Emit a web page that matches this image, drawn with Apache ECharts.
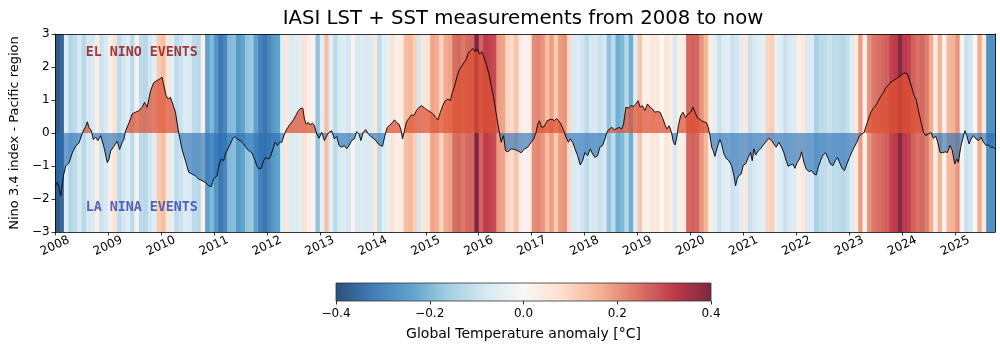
<!DOCTYPE html>
<html><head><meta charset="utf-8">
<script src="https://cdn.jsdelivr.net/npm/echarts@6/dist/echarts.min.js"></script>
<style>html,body{margin:0;padding:0;background:#fff}#c{width:1000px;height:348px}</style>
</head><body><div id="c"></div><script>
// ---------- data ----------
const startYear = 2008;
const endYear = 2025.75;
const yearTicks = [2008,2009,2010,2011,2012,2013,2014,2015,2016,2017,2018,2019,2020,2021,2022,2023,2024,2025];
const colorbarTicks = [-0.4,-0.2,0,0.2,0.4];
// monthly global temperature anomaly (stripes), Jan 2008 .. Sep 2025
const stripeAnoms = [
 -0.38,-0.36,-0.065,-0.14,-0.12,-0.08,-0.13,-0.085,-0.08,0.04,-0.10,-0.075,
 0.03,0.07,-0.12,-0.085,-0.065,-0.12,0.02,-0.12,-0.13,-0.085,-0.055,0.12,
 0.14,0.06,-0.055,-0.12,-0.10,-0.065,-0.075,-0.12,-0.13,0.04,-0.24,-0.20,
 -0.27,-0.33,-0.30,-0.20,-0.19,-0.26,-0.24,-0.18,-0.17,-0.24,-0.31,-0.33,
 -0.30,-0.26,-0.24,-0.055,0.06,-0.075,-0.065,-0.055,0.07,0.03,0.02,-0.18,
 -0.055,0.14,-0.055,-0.12,-0.075,-0.065,-0.085,0.02,-0.075,-0.065,-0.075,-0.075,
 0.06,-0.12,-0.055,-0.045,0.07,0.03,0.04,0.14,0.15,0.11,-0.085,0.06,
 0.07,0.18,0.17,0.10,0.17,0.18,0.25,0.26,0.24,0.26,0.26,0.40,
 0.27,0.32,0.31,0.30,0.19,0.18,0.10,0.09,0.13,0.04,0.02,0.04,
 0.21,0.22,0.20,0.14,0.19,0.12,0.19,0.20,0.09,-0.075,-0.065,-0.085,
 -0.12,-0.085,-0.08,-0.10,-0.085,-0.18,-0.12,-0.22,-0.20,-0.13,-0.22,-0.065,
 0.13,0.03,0.03,0.06,0.05,0.00,0.06,0.04,-0.08,0.03,0.04,0.26,
 0.27,0.26,0.20,0.15,0.04,-0.055,-0.10,-0.065,-0.055,-0.10,-0.085,-0.055,
 0.05,-0.10,-0.08,-0.065,-0.045,0.10,0.11,-0.045,-0.065,-0.10,-0.075,-0.065,
 0.04,0.05,-0.07,-0.07,-0.15,-0.12,-0.12,-0.10,-0.12,-0.12,-0.13,-0.11,
 -0.065,0.05,0.19,0.03,0.20,0.24,0.25,0.26,0.27,0.31,0.32,0.39,
 0.32,0.31,0.27,0.25,0.26,0.23,0.17,0.04,0.16,0.02,0.15,0.16,
 0.20,0.02,-0.10,-0.08,0.00,0.17,0.05,-0.28,-0.28
];
// Nino 3.4 index
const ninoYears = [
2008.000,2008.044,2008.075,2008.107,2008.157,2008.201,2008.264,2008.326,2008.389,2008.452,2008.515,2008.578,2008.609,2008.640,2008.684,2008.722,2008.766,2008.810,2008.860,2008.923,2008.986,
2009.017,2009.048,2009.111,2009.174,2009.218,2009.268,2009.299,2009.331,2009.394,2009.457,2009.519,2009.582,2009.645,2009.689,2009.739,2009.802,2009.864,2009.927,2009.978,
2010.021,2010.053,2010.097,2010.135,2010.179,2010.222,2010.273,2010.335,2010.398,2010.461,2010.524,2010.586,2010.649,2010.712,2010.775,2010.838,2010.901,2010.950,2010.994,
2011.057,2011.101,2011.139,2011.183,2011.214,2011.264,2011.308,2011.352,2011.390,2011.434,2011.497,2011.560,2011.623,2011.666,2011.716,2011.767,2011.811,2011.855,2011.893,2011.936,2011.980,
2012.018,2012.062,2012.093,2012.125,2012.156,2012.200,2012.238,2012.282,2012.332,2012.376,2012.439,2012.502,2012.546,2012.596,2012.640,2012.678,2012.709,2012.740,2012.784,2012.816,2012.860,2012.897,2012.941,2012.985,
2013.035,2013.086,2013.130,2013.174,2013.224,2013.274,2013.318,2013.362,2013.412,2013.462,2013.506,2013.550,2013.600,2013.650,2013.694,2013.738,2013.776,2013.819,2013.869,2013.914,2013.958,
2014.008,2014.058,2014.102,2014.146,2014.184,2014.228,2014.272,2014.322,2014.373,2014.410,2014.448,2014.492,2014.529,2014.561,2014.598,2014.636,2014.680,2014.730,2014.774,2014.824,2014.874,2014.918,2014.949,
2015.000,2015.044,2015.094,2015.138,2015.188,2015.232,2015.276,2015.326,2015.370,2015.420,2015.464,2015.502,2015.546,2015.596,2015.640,2015.684,2015.722,2015.766,2015.797,2015.841,2015.891,2015.935,2015.973,
2016.017,2016.061,2016.099,2016.143,2016.193,2016.237,2016.287,2016.331,2016.362,2016.394,2016.425,2016.469,2016.507,2016.551,2016.614,2016.677,2016.739,2016.801,2016.864,2016.927,2016.990,
2017.040,2017.083,2017.115,2017.146,2017.190,2017.240,2017.290,2017.334,2017.385,2017.428,2017.472,2017.510,2017.554,2017.605,2017.649,2017.693,2017.730,2017.774,2017.818,2017.868,2017.918,2017.962,
2018.006,2018.056,2018.107,2018.151,2018.195,2018.245,2018.289,2018.339,2018.383,2018.421,2018.465,2018.515,2018.559,2018.609,2018.653,2018.697,2018.735,2018.779,2018.829,2018.873,2018.923,2018.967,
2019.011,2019.049,2019.093,2019.137,2019.187,2019.237,2019.281,2019.325,2019.376,2019.426,2019.470,2019.514,2019.552,2019.596,2019.640,2019.677,2019.709,2019.745,2019.770,2019.814,2019.858,2019.908,2019.959,
2020.003,2020.047,2020.084,2020.128,2020.160,2020.210,2020.254,2020.298,2020.336,2020.367,2020.399,2020.430,2020.461,2020.505,2020.555,2020.587,2020.631,2020.675,2020.725,2020.775,2020.819,2020.851,2020.882,2020.914,2020.958,2020.996,
2021.040,2021.090,2021.134,2021.166,2021.197,2021.229,2021.279,2021.323,2021.367,2021.417,2021.480,2021.530,2021.574,2021.618,2021.669,2021.719,2021.763,2021.807,2021.845,2021.889,2021.933,2021.971,
2022.015,2022.059,2022.097,2022.141,2022.185,2022.235,2022.286,2022.330,2022.374,2022.411,2022.455,2022.499,2022.550,2022.600,2022.639,2022.689,2022.733,2022.777,2022.827,2022.871,2022.909,2022.953,
2023.003,2023.047,2023.091,2023.141,2023.185,2023.235,2023.279,2023.317,2023.361,2023.405,2023.455,2023.505,2023.549,2023.593,2023.644,2023.688,2023.738,2023.782,2023.832,2023.882,2023.926,2023.970,
2024.008,2024.052,2024.096,2024.134,2024.178,2024.222,2024.260,2024.304,2024.348,2024.398,2024.442,2024.493,2024.537,2024.587,2024.631,2024.669,2024.713,2024.763,2024.807,2024.851,2024.901,2024.945,2024.989,
2025.027,2025.058,2025.102,2025.140,2025.184,2025.216,2025.260,2025.298,2025.342,2025.392,2025.436,2025.487,2025.531,2025.581,2025.625,2025.669,2025.719,2025.750
];
const ninoValues = [
-1.6,-1.5,-1.65,-1.9,-1.3,-1.0,-0.9,-0.6,-0.4,-0.3,0.0,0.2,0.34,0.17,0.07,-0.2,-0.13,-0.23,-0.08,-0.43,-0.9,
-0.8,-0.55,-0.4,-0.25,-0.5,-0.28,-0.2,0.07,0.3,0.58,0.63,0.68,0.78,0.93,0.78,1.28,1.53,1.59,1.64,
1.69,1.45,1.13,1.03,1.08,0.88,0.63,0.0,-0.5,-0.84,-1.19,-1.24,-1.3,-1.4,-1.44,-1.5,-1.6,-1.62,-1.39,
-1.3,-0.94,-0.79,-0.84,-0.64,-0.48,-0.33,-0.18,-0.1,-0.18,-0.23,-0.33,-0.48,-0.54,-0.6,-0.79,-1.0,-1.09,-1.07,-0.84,-0.74,
-0.79,-0.74,-0.79,-0.43,-0.28,-0.38,-0.28,-0.28,-0.03,0.12,0.27,0.4,0.53,0.68,0.75,0.75,0.42,0.27,0.32,0.24,0.3,0.22,-0.03,-0.16,
0.02,-0.23,-0.08,0.02,0.07,-0.18,-0.1,-0.38,-0.43,-0.38,-0.48,-0.38,-0.23,-0.18,0.04,-0.03,-0.23,0.03,0.1,-0.03,-0.1,
-0.16,-0.23,-0.33,-0.38,-0.4,-0.08,0.17,0.24,0.32,0.4,0.32,0.27,0.12,-0.18,0.07,0.34,0.44,0.55,0.53,0.68,0.78,0.83,0.85,
0.73,0.68,0.63,0.58,0.47,0.4,0.63,0.85,0.98,1.03,0.98,1.23,1.43,1.74,1.94,2.04,2.14,2.24,2.39,2.49,2.56,2.46,2.55,
2.39,2.46,2.29,2.09,1.79,1.43,1.03,0.58,0.27,-0.03,-0.28,-0.08,-0.54,-0.57,-0.48,-0.5,-0.54,-0.6,-0.48,-0.43,-0.28,
-0.18,0.02,0.27,0.37,0.17,0.2,0.37,0.4,0.42,0.37,0.44,0.37,0.27,0.07,-0.13,-0.28,-0.18,-0.28,-0.48,-0.69,-0.97,-0.84,
-0.59,-0.69,-0.48,-0.64,-0.74,-0.69,-0.43,-0.38,-0.18,0.02,0.12,0.17,0.1,0.14,0.17,0.12,0.27,0.78,0.75,0.83,0.81,0.88,
0.98,0.78,0.83,0.68,0.88,0.78,0.73,0.63,0.65,0.63,0.47,0.27,0.12,0.22,0.02,-0.28,-0.36,-0.1,0.22,0.53,0.63,0.47,0.58,
0.63,0.78,0.63,0.47,0.53,0.37,0.34,0.32,0.17,-0.08,-0.43,-0.54,-0.71,-0.43,-0.2,-0.33,-0.64,-0.77,-0.84,-0.99,-1.29,-1.6,-1.39,-1.29,-1.24,-0.97,
-0.94,-0.74,-0.59,-0.84,-0.48,-0.67,-0.54,-0.48,-0.38,-0.28,-0.16,-0.23,-0.33,-0.43,-0.28,-0.43,-0.6,-0.84,-1.01,-0.97,-0.94,-1.07,
-0.89,-0.79,-0.57,-0.89,-1.09,-1.17,-1.14,-1.24,-1.27,-1.04,-0.84,-0.67,-0.6,-0.77,-0.94,-0.99,-0.84,-0.74,-0.94,-1.09,-1.14,-0.94,
-0.74,-0.57,-0.43,-0.28,-0.1,-0.03,0.02,0.22,0.42,0.63,0.75,0.85,0.98,1.11,1.23,1.38,1.45,1.54,1.59,1.64,1.69,1.74,
1.79,1.82,1.79,1.59,1.38,1.13,1.03,0.68,0.37,0.02,-0.08,-0.03,0.02,-0.16,-0.1,-0.28,-0.59,-0.6,-0.57,-0.59,-0.38,-0.54,-0.94,
-0.79,-0.89,-0.43,-0.18,0.07,-0.08,-0.33,-0.18,-0.08,-0.18,-0.23,-0.13,-0.28,-0.38,-0.36,-0.43,-0.43,-0.48
];
const annotationTexts = ['EL NINO EVENTS', 'LA NINA EVENTS'];
const annotationAt = [[2008.58, 2.44], [2008.58, -2.27]];

// ---------- styling ----------
const FONT = 'DejaVu Sans';
// RdBu_r, slightly faded over white
const cmapBase = ['#053061','#2166ac','#4393c3','#92c5de','#d1e5f0','#f7f7f7','#fddbc7','#f4a582','#d6604d','#b2182b','#67001f'];
const ALPHA = 0.85;
const fade = hex => {
  const n = parseInt(hex.slice(1), 16);
  const ch = [(n >> 16) & 255, (n >> 8) & 255, n & 255].map(c => Math.round(c * ALPHA + 255 * (1 - ALPHA)));
  return 'rgb(' + ch.join(',') + ')';
};
const cmap = cmapBase.map(fade);
const minus = v => (v < 0 ? '\u2212' : '') + Math.abs(v);
const stripeData = stripeAnoms.map((a, i) => [startYear + i / 12, startYear + (i + 1) / 12, a]);
const ninoData = ninoYears.map((t, i) => [t, ninoValues[i]]);

const chart = echarts.init(document.getElementById('c'), null, {renderer: 'canvas'});
const axisLineStyle = {color: '#000', width: 0.8};
chart.setOption({
  animation: false,
  backgroundColor: '#fff',
  textStyle: {fontFamily: FONT},
  title: {
    text: 'IASI LST + SST measurements from 2008 to now',
    left: 518, top: 4, textAlign: 'center',
    textStyle: {fontFamily: FONT, fontSize: 19.7, fontWeight: 'normal', color: '#000'}
  },
  grid: [
    {left: 51, right: 5, top: 34, bottom: 116, containLabel: false},
    {left: 336, width: 375, top: 283, height: 18, containLabel: false}
  ],
  xAxis: [
    {gridIndex: 0, type: 'value', min: startYear, max: endYear, z: 10,
     axisLine: {show: true, onZero: false, lineStyle: axisLineStyle},
     axisTick: {show: true, length: 3.5, lineStyle: axisLineStyle, customValues: yearTicks},
     axisLabel: {customValues: yearTicks, rotate: 25, align: 'center', verticalAlign: 'middle', margin: 14,
                 fontSize: 12, color: '#000', fontFamily: FONT, formatter: v => String(v)},
     splitLine: {show: false}},
    {gridIndex: 1, type: 'value', min: -0.4, max: 0.4, interval: 0.2, z: 10,
     axisLine: {show: false, onZero: false},
     axisTick: {show: true, length: 3.5, lineStyle: axisLineStyle, customValues: colorbarTicks},
     axisLabel: {customValues: colorbarTicks, fontSize: 12, color: '#000', margin: 7, fontFamily: FONT,
                 formatter: v => (v < 0 ? '\u2212' : '') + Math.abs(v).toFixed(1)},
     splitLine: {show: false},
     name: 'Global Temperature anomaly [°C]', nameLocation: 'middle', nameGap: 26,
     nameTextStyle: {fontSize: 14, color: '#000', fontFamily: FONT}},
    {gridIndex: 0, type: 'value', position: 'top', min: startYear, max: endYear, z: 10,
     axisLine: {show: true, onZero: false, lineStyle: axisLineStyle}, axisTick: {show: false}, axisLabel: {show: false}, splitLine: {show: false}}
  ],
  yAxis: [
    {gridIndex: 0, type: 'value', min: -3, max: 3, interval: 1, z: 10,
     axisLine: {show: true, onZero: false, lineStyle: axisLineStyle},
     axisTick: {show: true, length: 3.5, lineStyle: axisLineStyle},
     axisLabel: {fontSize: 12, color: '#000', margin: 5.5, fontFamily: FONT, formatter: minus},
     splitLine: {show: false},
     name: 'Nino 3.4 index - Pacific region', nameLocation: 'middle', nameGap: 33,
     nameTextStyle: {fontSize: 13, color: '#000', fontFamily: FONT}},
    {gridIndex: 1, type: 'value', min: 0, max: 1, show: false},
    {gridIndex: 0, type: 'value', position: 'right', min: -3, max: 3, z: 10,
     axisLine: {show: true, onZero: false, lineStyle: axisLineStyle}, axisTick: {show: false}, axisLabel: {show: false}, splitLine: {show: false}}
  ],
  visualMap: [
    {type: 'continuous', show: false, seriesIndex: 0, dimension: 2, min: -0.4, max: 0.4, inRange: {color: cmap}},
    {type: 'piecewise', show: false, seriesIndex: 1, dimension: 1,
     pieces: [{gte: -3, lt: 0, color: 'rgba(40,110,180,0.62)'}, {gte: 0, lte: 3, color: 'rgba(222,80,50,0.72)'}]}
  ],
  series: [
    {type: 'custom', xAxisIndex: 0, yAxisIndex: 0, z: 1, silent: true, clip: true,
     dimensions: ['start', 'end', 'anom'],
     encode: {x: [0, 1]},
     data: stripeData,
     renderItem: (params, api) => {
       const p0 = api.coord([api.value(0), 3]);
       const p1 = api.coord([api.value(1), -3]);
       return {type: 'rect', shape: {x: p0[0], y: p0[1], width: p1[0] - p0[0] + 0.6, height: p1[1] - p0[1]},
               style: {fill: api.visual('color')}};
     }},
    {type: 'line', xAxisIndex: 0, yAxisIndex: 0, z: 3, silent: true, data: ninoData,
     symbol: 'none', lineStyle: {width: 0}, areaStyle: {opacity: 1}},
    {type: 'line', xAxisIndex: 0, yAxisIndex: 0, z: 4, silent: true, data: ninoData,
     symbol: 'none', lineStyle: {width: 0.9, color: '#000'}, itemStyle: {color: '#000'}},
    {type: 'scatter', xAxisIndex: 0, yAxisIndex: 0, z: 5, silent: true, symbolSize: 0,
     data: annotationAt.map((p, i) => ({value: p, label: {formatter: annotationTexts[i], color: i === 0 ? '#8e0a0f' : '#3040a8'}})),
     label: {show: true, position: 'right', distance: 0, fontFamily: 'DejaVu Sans Mono', fontWeight: 'bold', fontSize: 13.3}},
    {type: 'custom', xAxisIndex: 1, yAxisIndex: 1, silent: true,
     encode: {x: [0, 1]},
     data: [[colorbarTicks[0], colorbarTicks[colorbarTicks.length - 1]]],
     renderItem: (params, api) => {
       const p0 = api.coord([api.value(0), 1]);
       const p1 = api.coord([api.value(1), 0]);
       const stops = cmap.map((c, i) => ({offset: i / (cmap.length - 1), color: c}));
       return {type: 'rect', shape: {x: p0[0], y: p0[1], width: p1[0] - p0[0], height: p1[1] - p0[1]},
               style: {fill: new echarts.graphic.LinearGradient(0, 0, 1, 0, stops), stroke: '#333', lineWidth: 0.8}};
     }}
  ]
});
</script></body></html>
